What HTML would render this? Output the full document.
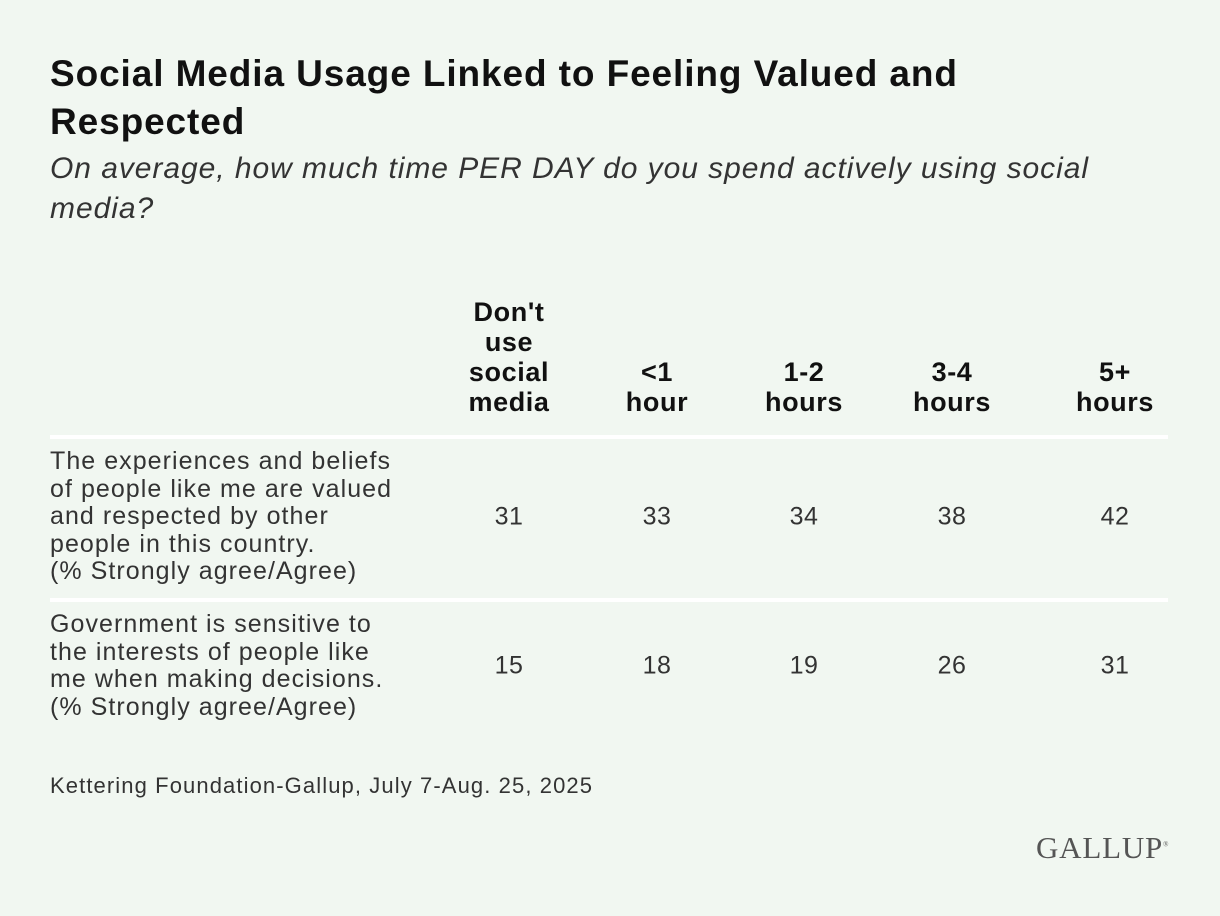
<!DOCTYPE html>
<html><head><meta charset="utf-8"><style>
body{margin:0;background:#f1f7f1;}
#page{position:relative;width:1220px;height:916px;background:#f1f7f1;font-family:"Liberation Sans",sans-serif;color:#333;overflow:hidden}
.abs{position:absolute}
h1{position:absolute;left:50px;top:50px;margin:0;font-size:37px;letter-spacing:0.9px;line-height:48px;font-weight:bold;color:#111;width:1150px;white-space:nowrap}
.sub{left:50px;top:149px;font-size:30px;letter-spacing:0.95px;font-style:italic;line-height:40px;width:1150px;color:#333;white-space:nowrap}
.hdr{font-weight:bold;font-size:27px;letter-spacing:0.6px;line-height:30px;text-align:center;color:#111;width:160px;transform:translateX(-50%)}
.rule{left:50px;width:1118px;height:4px;background:#fff}
.lab{left:50px;font-size:25px;letter-spacing:1.05px;line-height:27.6px;color:#333;width:420px;white-space:nowrap}
.val{font-size:25px;letter-spacing:0.5px;text-align:center;width:80px;transform:translate(-50%,-50%);color:#333}
</style></head><body>
<div id="page">
<h1>Social Media Usage Linked to Feeling Valued and<br>Respected</h1>
<div class="abs sub">On average, how much time PER DAY do you spend actively using social<br>media?</div>
<div class="abs rule" style="top:435px"></div>
<div class="abs rule" style="top:598px"></div>
<div class="abs lab" style="top:448px">The experiences and beliefs<br>of people like me are valued<br>and respected by other<br>people in this country.<br>(% Strongly agree/Agree)</div>
<div class="abs lab" style="top:611px">Government is sensitive to<br>the interests of people like<br>me when making decisions.<br>(% Strongly agree/Agree)</div>
<div class="abs" style="left:50px;top:773px;font-size:22px;letter-spacing:1.1px;color:#333;white-space:nowrap">Kettering Foundation-Gallup, July 7-Aug. 25, 2025</div>
<div class="abs" style="left:1036px;top:830px;font-family:'Liberation Serif',serif;font-size:31px;color:#555;letter-spacing:0.8px;white-space:nowrap">GALLUP<sup style="font-size:7px">®</sup></div>
</div>
<script>
const categories=["Don't<br>use<br>social<br>media","<1<br>hour","1-2<br>hours","3-4<br>hours","5+<br>hours"];
const valuedSeries=[31,33,34,38,42];
const governmentSeries=[15,18,19,26,31];
const colX=[509,657,804,952,1115];
const page=document.getElementById('page');
categories.forEach((c,i)=>{
  const d=document.createElement('div');
  d.className='abs hdr';
  
  
  const parts=c.split('<br>');
  d.style.left=colX[i]+'px';
  d.style.top=(417-parts.length*30)+'px';
  d.innerHTML=parts.map(s=>s.replace(/</g,'&lt;')).join('<br>');
  page.appendChild(d);
});
function row(vals,y,name){
  vals.forEach((v,i)=>{
    const d=document.createElement('div');
    d.className='abs val';
    
    
    d.style.left=colX[i]+'px';
    d.style.top=y+'px';
    d.textContent=v;
    page.appendChild(d);
  });
}
row(valuedSeries,517,'value-valued');
row(governmentSeries,666,'value-government');
</script>
</body></html>
